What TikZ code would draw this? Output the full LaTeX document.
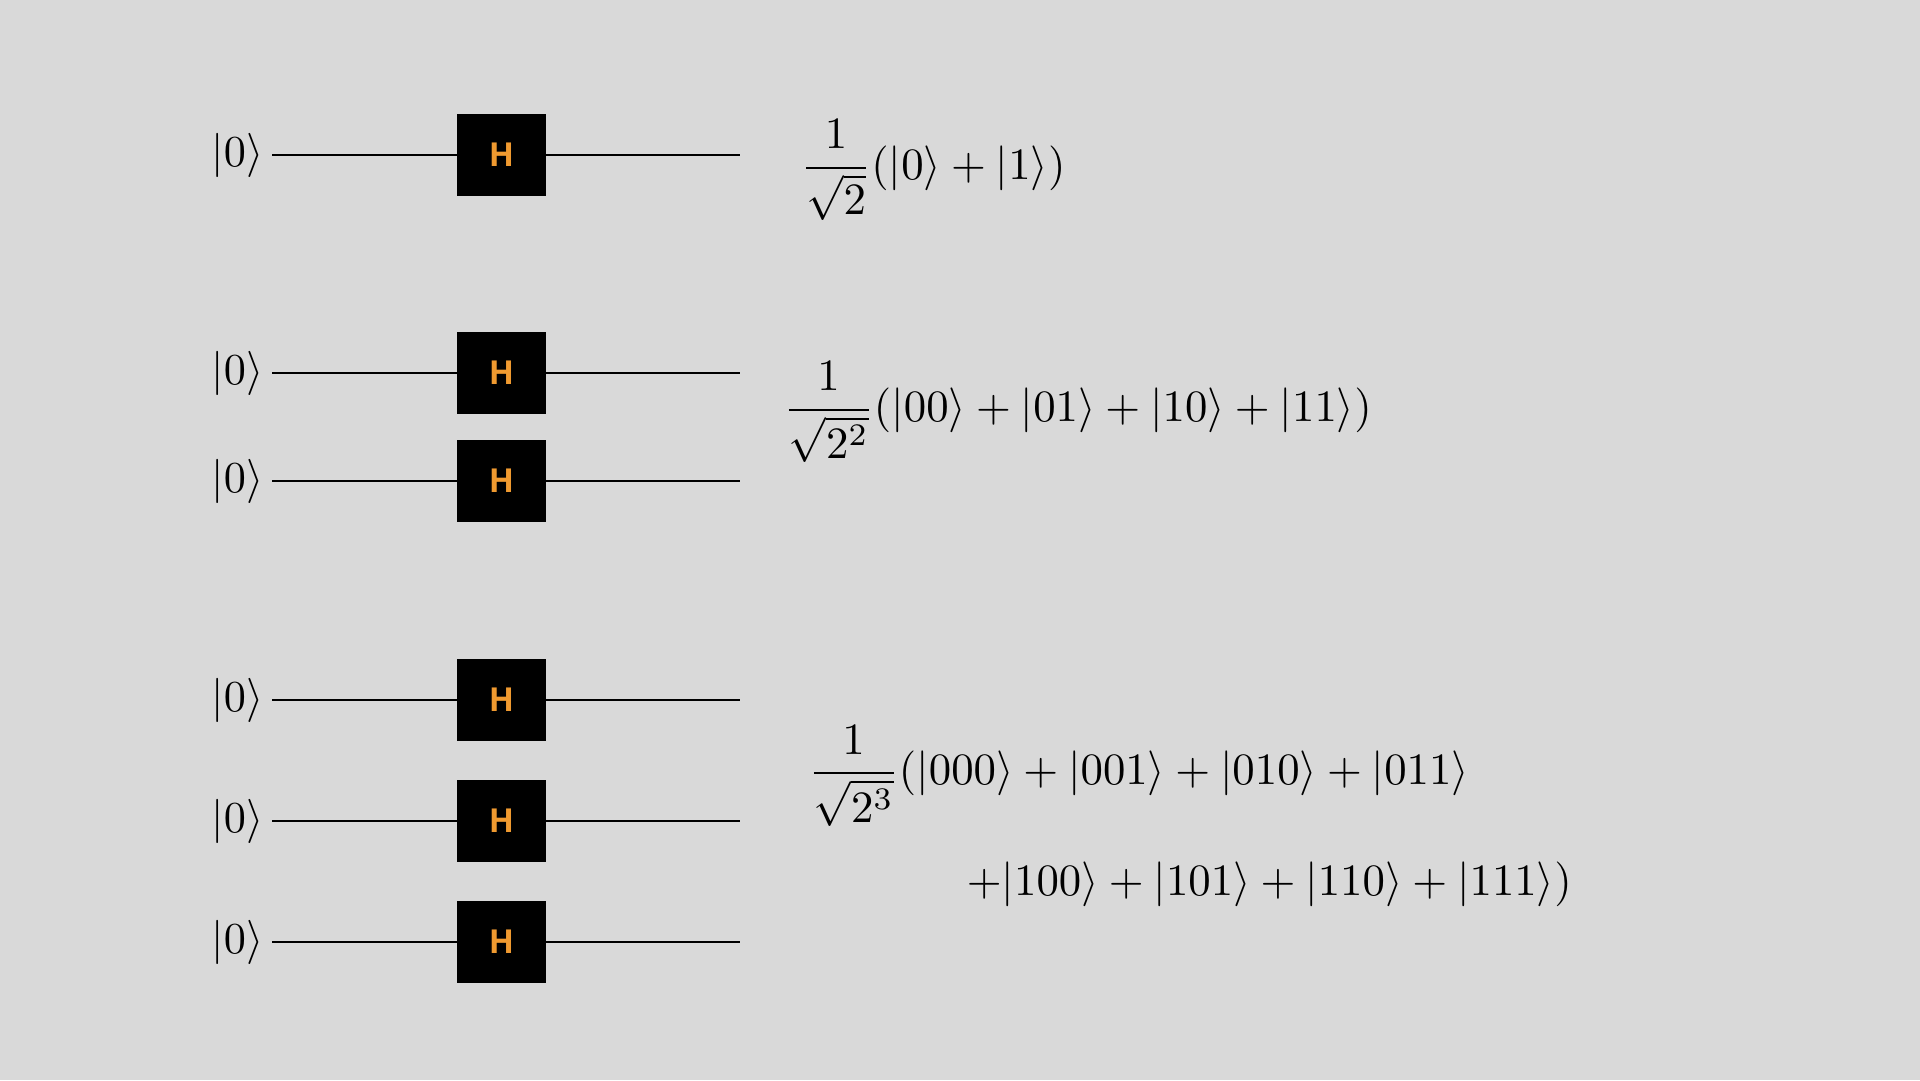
\documentclass[tikz,border=0pt]{standalone}
\usepackage{amsmath}
\usepackage{fontspec}
\newfontfamily\gatefont{Open Sans}
\definecolor{bgc}{HTML}{D9D9D9}
\definecolor{gateo}{HTML}{F09A30}
\newcommand{\kt}[1]{\lvert #1\rangle}
\tikzset{
  gate/.style={fill=black,draw=none,minimum width=89pt,minimum height=82pt,inner sep=0pt,text=gateo,font=\gatefont\bfseries\fontsize{33}{35}\selectfont},
  ketlab/.style={inner sep=0pt,scale=4.42},
  eqn/.style={inner sep=0pt,anchor=base west,scale=4.48},
  wire/.style={draw=black,line width=2pt}
}
\begin{document}
\begin{tikzpicture}[x=1pt,y=-1pt]
\useasboundingbox[fill=bgc] (0,0) rectangle (1920,1080);
\foreach \n/\y in {a/154.5,b/373,c/481,d/700,e/821,f/942}{
  \node[gate] (g\n) at (501.5,\y) {H};
  \node[ketlab] (k\n) at (237.5,\y+0.5) {$\kt{0}$};
  \coordinate (l\n) at (272,\y);
  \coordinate (r\n) at (739.5,\y);
  \draw[wire] (l\n) -- (g\n.west);
  \draw[wire] (g\n.east) -- (r\n);
}
\node[eqn] (e1) at (800,179) {$\dfrac{1}{\sqrt{2}}(\kt{0}+\kt{1})$};
\node[eqn] (e2) at (782.5,421) {$\dfrac{1}{\sqrt{2^2}}(\kt{00}+\kt{01}+\kt{10}+\kt{11})$};
\node[eqn] (e3) at (807.5,784.5) {$\dfrac{1}{\sqrt{2^3}}(\kt{000}+\kt{001}+\kt{010}+\kt{011}$};
\node[eqn] (e4) at (966,895) {$+\kt{100}+\kt{101}+\kt{110}+\kt{111})$};
\end{tikzpicture}
\end{document}
